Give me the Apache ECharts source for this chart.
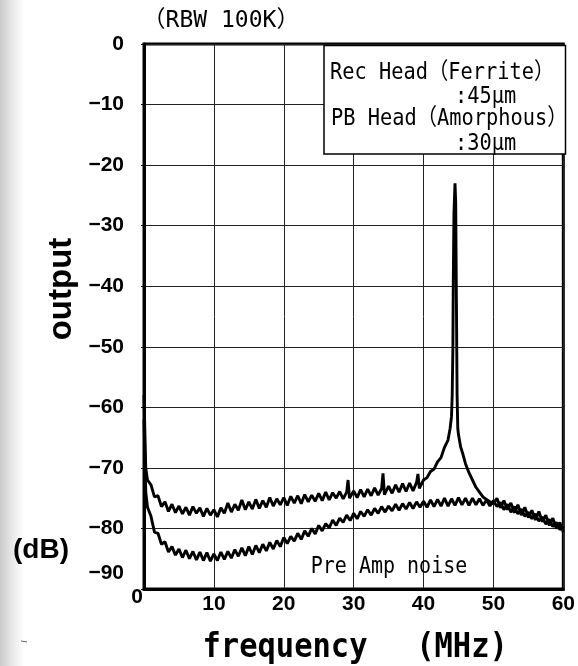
<!DOCTYPE html>
<html>
<head>
<meta charset="utf-8">
<script src="https://cdn.jsdelivr.net/npm/echarts@6/dist/echarts.min.js"></script>
<style>
html,body{margin:0;padding:0;background:#fff;}
#chart{width:578px;height:666px;}
</style>
</head>
<body>
<div id="chart"></div>
<script>
// Head signal trace (Rec Head Ferrite / PB Head Amorphous), frequency in MHz, output in dB
const recFreq = [0,0.25,0.5,1,1.5,2,2.5,3,3.5,4,4.5,5,5.5,6,6.5,7,7.5,8,8.5,9,9.5,10,10.5,11,11.5,12,12.5,13,13.5,14,14.5,15,15.5,16,16.5,17,17.5,18,18.5,19,19.5,20,20.5,21,21.5,22,22.5,23,23.5,24,24.5,25,25.5,26,26.5,27,27.5,28,28.5,29,29.2,29.4,30,30.5,31,31.5,32,32.5,33,33.5,34,34.2,34.4,35,35.5,36,36.5,37,37.5,38,38.5,39,39.2,39.4,40,40.5,41,41.5,42,42.5,43,43.5,43.8,44,44.1,44.2,44.25,44.35,44.5,44.6,44.7,44.8,44.9,45,45.3,45.6,46,46.5,47,47.5,48,48.5,49,49.5,50,50.5,51,51.5,52,52.5,53,53.5,54,54.5,55,55.5,56,56.5,57,57.5,58,58.5,59,59.5,60];
const recLevel = [-58,-70,-72,-72.8,-74.8,-74.6,-76.4,-75.6,-77.2,-76.0,-77.4,-76.3,-77.6,-76.5,-77.8,-76.4,-77.5,-76.6,-78.0,-76.7,-77.8,-76.9,-78.1,-76.6,-77.5,-75.8,-77.3,-76.0,-77.0,-75.3,-76.9,-75.6,-76.8,-75.2,-76.7,-75.4,-76.5,-74.9,-76.3,-75.1,-76.1,-74.9,-76.2,-74.7,-75.8,-74.6,-75.9,-74.4,-75.6,-74.5,-75.5,-74.2,-75.4,-74.0,-75.3,-74.1,-75.0,-73.9,-75.1,-74.0,-72.0,-75.0,-73.8,-74.9,-73.6,-74.8,-73.5,-74.6,-73.3,-74.5,-73.4,-70.9,-74.4,-73.0,-74.2,-72.8,-74.0,-72.6,-73.9,-72.5,-73.8,-72.4,-71.0,-73.4,-72.0,-71.6,-70.6,-70.2,-69.0,-68.3,-66.6,-65.4,-63.5,-61.5,-58,-50,-40,-28,-23,-26,-42,-58,-63.5,-64.5,-66.5,-67.6,-69.3,-70.8,-72.0,-73.2,-74.0,-74.8,-75.2,-75.6,-75.9,-75.0,-76.6,-75.4,-76.9,-75.8,-77.4,-76.1,-77.8,-76.5,-78.2,-77.0,-78.6,-77.2,-78.9,-77.8,-79.5,-78.3,-80.0,-79.0,-80.6];

// Pre Amp noise trace
const noiseFreq = [0,0.25,0.5,1,1.5,2,2.5,3,3.5,4,4.5,5,5.5,6,6.5,7,7.5,8,8.5,9,9.5,10,10.5,11,11.5,12,12.5,13,13.5,14,14.5,15,15.5,16,16.5,17,17.5,18,18.5,19,19.5,20,20.5,21,21.5,22,22.5,23,23.5,24,24.5,25,25.5,26,26.5,27,27.5,28,28.5,29,29.5,30,30.5,31,31.5,32,32.5,33,33.5,34,34.5,35,35.5,36,36.5,37,37.5,38,38.5,39,39.5,40,40.5,41,41.5,42,42.5,43,43.5,44,44.5,45,45.5,46,46.5,47,47.5,48,48.5,49,49.5,50,50.5,51,51.5,52,52.5,53,53.5,54,54.5,55,55.5,56,56.5,57,57.5,58,58.5,59,59.5,60];
const noiseLevel = [-62,-74,-76.5,-78.0,-80.6,-80.8,-82.6,-82.2,-83.9,-83.0,-84.4,-83.4,-84.8,-83.6,-85.0,-83.8,-85.2,-83.9,-85.3,-84.0,-85.4,-84.2,-85.3,-83.9,-85.1,-83.8,-84.9,-83.5,-84.6,-83.2,-84.5,-83.0,-84.3,-82.8,-84.0,-82.6,-83.7,-82.3,-83.4,-82.0,-83.0,-81.5,-82.5,-81.3,-82.1,-80.8,-81.8,-80.4,-81.3,-80.0,-80.9,-79.5,-80.4,-79.2,-79.9,-78.6,-79.5,-78.3,-79.0,-77.8,-78.7,-77.5,-78.4,-77.2,-78.0,-76.9,-77.8,-76.7,-77.5,-76.4,-77.3,-76.3,-77.1,-76.0,-77.0,-75.9,-76.8,-75.7,-76.7,-75.6,-76.5,-75.5,-76.5,-75.3,-76.4,-75.2,-76.3,-75.0,-76.3,-75.1,-76.2,-74.9,-76.1,-75.0,-76.2,-75.0,-76.1,-75.1,-76.2,-75.3,-76.3,-75.4,-76.4,-75.7,-76.9,-76.0,-77.3,-76.4,-77.6,-76.8,-78.0,-77.3,-78.4,-77.6,-78.8,-78.1,-79.3,-78.5,-79.7,-79.0,-80.2,-79.6];

// Axes
const xMin = 0, xMax = 60, xStep = 10;
const yMin = -90, yMax = 0, yStep = 10;

// Texts
const titleText = '（RBW 100K）';
const boxLines = ['Rec Head（Ferrite）', ':45μm', 'PB Head（Amorphous）', ':30μm'];
const noiseLabel = 'Pre Amp noise';
const yName = 'output';
const yUnit = '(dB)';
const xName = 'frequency';
const xUnit = '(MHz)';

const recData = recFreq.map((f, i) => [f, recLevel[i]]);
const noiseData = noiseFreq.map((f, i) => [f, noiseLevel[i]]);

const chart = echarts.init(document.getElementById('chart'), null, {renderer: 'canvas'});
const MONO = '"DejaVu Sans Mono", "Noto Sans CJK JP"';
const SANS = '"Liberation Sans", Arial, sans-serif';
const minus = v => String(v).replace('-', '\u2212');

function gText(txt, x, y, font, opts) {
  opts = opts || {};
  return {
    type: 'text', x: x, y: y, z: 100,
    rotation: opts.rotation || 0,
    scaleX: opts.scaleX || 1,
    style: {
      text: txt, x: 0, y: 0, font: font, fill: '#000',
      textAlign: opts.align || 'left', textVerticalAlign: 'middle'
    }
  };
}

const option = {
  backgroundColor: '#fff',
  animation: false,
  grid: {left: 144, right: 11, top: 44, bottom: 77, show: true, borderColor: '#000', borderWidth: 3, backgroundColor: 'transparent'},
  xAxis: {
    type: 'value', min: xMin, max: xMax, interval: xStep,
    axisLine: {show: true, onZero: false, lineStyle: {color: '#000', width: 3}},
    axisTick: {show: false},
    splitLine: {show: true, lineStyle: {color: '#222', width: 1}},
    axisLabel: {
      margin: 5, color: '#000', fontSize: 21, fontWeight: 'bold', fontFamily: SANS,
      formatter: v => v === 0 ? '' : String(v)
    }
  },
  yAxis: {
    type: 'value', min: yMin, max: yMax, interval: yStep,
    axisLine: {show: true, onZero: false, lineStyle: {color: '#000', width: 3}},
    axisTick: {show: true, length: 3, lineStyle: {color: '#000', width: 1}},
    splitLine: {show: true, lineStyle: {color: '#222', width: 1}},
    axisLabel: {
      margin: 20, color: '#000', fontSize: 21, fontWeight: 'bold', fontFamily: SANS,
      formatter: v => v === yMin ? '{m|' + minus(v) + '}' : minus(v),
      rich: {m: {padding: [0, 0, 32, 0], fontSize: 21, fontWeight: 'bold', fontFamily: SANS, color: '#000'}}
    }
  },
  series: [
    {type: 'line', data: noiseData, showSymbol: false, symbol: 'none', lineStyle: {color: '#000', width: 2.9}, z: 3},
    {type: 'line', data: recData, showSymbol: false, symbol: 'none', lineStyle: {color: '#000', width: 2.9}, z: 4}
  ],
  graphic: [
    {type: 'rect', z: 0, silent: true, shape: {x: 0, y: 0, width: 24, height: 666},
     style: {fill: {type: 'linear', x: 0, y: 0, x2: 1, y2: 0, colorStops: [{offset: 0, color: '#cbcbcb'}, {offset: 0.6, color: '#ececec'}, {offset: 1, color: '#ffffff'}]}}},
    {type: 'line', z: 100, shape: {x1: 21, y1: 641, x2: 27, y2: 642}, style: {stroke: '#666', lineWidth: 1}},
    {type: 'rect', z: 90, shape: {x: 324, y: 45.5, width: 241.5, height: 108.5}, style: {fill: '#fff', stroke: '#000', lineWidth: 1.5}},
    gText(boxLines[0], 330, 73, '23px ' + MONO, {scaleX: 0.884}),
    gText(boxLines[1], 455, 97, '23px ' + MONO, {scaleX: 0.884}),
    gText(boxLines[2], 331, 119, '23px ' + MONO, {scaleX: 0.884}),
    gText(boxLines[3], 455, 144, '23px ' + MONO, {scaleX: 0.884}),
    gText(titleText, 221, 21, '23px ' + MONO, {scaleX: 1.0, align: 'center'}),
    gText(noiseLabel, 389, 567, '23px ' + MONO, {scaleX: 0.87, align: 'center'}),
    gText(yName, 62, 289, 'bold 33px ' + SANS, {rotation: Math.PI / 2, align: 'center'}),
    gText(yUnit, 41, 550, 'bold 28px ' + SANS, {align: 'center'}),
    gText(xName, 285, 648, 'bold 34px ' + MONO, {scaleX: 0.896, align: 'center'}),
    gText(xUnit, 462, 648, 'bold 34px ' + MONO, {scaleX: 0.896, align: 'center'}),
    gText('0', 137, 597, 'bold 21px ' + SANS, {align: 'center'})
  ]
};
chart.setOption(option);
</script>
</body>
</html>
